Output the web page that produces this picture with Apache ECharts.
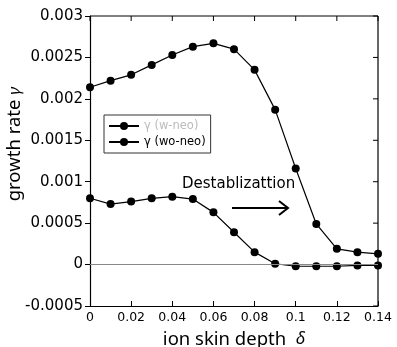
<!DOCTYPE html>
<html><head><meta charset="utf-8">
<script src="https://cdn.jsdelivr.net/npm/echarts@6/dist/echarts.min.js"></script>
<style>html,body{margin:0;padding:0;background:#fff}#c{width:397px;height:347px}</style>
</head><body><div id="c"></div>
<script>
var delta = [0,0.01,0.02,0.03,0.04,0.05,0.06,0.07,0.08,0.09,0.10,0.11,0.12,0.13,0.14];
var gammaUpper = [0.00214,0.00222,0.00229,0.00241,0.00253,0.00263,0.00267,0.00260,0.00235,0.00187,0.00116,0.00049,0.00019,0.00015,0.00013];
var gammaLower = [0.00080,0.00073,0.00076,0.00080,0.00082,0.00079,0.00063,0.00039,0.00015,0.00001,-0.00002,-0.00002,-0.00002,-0.00001,-0.00001];
var seriesNames = ['\u03b3 (w-neo)','\u03b3 (wo-neo)'];
var yTicks = {min:-0.0005,max:0.003,interval:0.0005};
var xTicks = {min:0,max:0.14,interval:0.02};

var chart = echarts.init(document.getElementById('c'));
var font = 'DejaVu Sans';
var nameFont = 'Noto Sans';
function pairs(ys){return delta.map(function(x,i){return [x,ys[i]];});}
chart.setOption({
  animation:false,
  grid:{left:90,right:19,top:16,bottom:41,containLabel:false,outerBoundsMode:'none'},
  legend:{
    left:104, top:115, orient:'vertical', itemGap:4, itemWidth:30, itemHeight:10,
    borderColor:'#333', borderWidth:1, padding:[5,5,5,4],
    textStyle:{fontFamily:font,fontSize:11.5,color:'#000'},
    data:[{name:seriesNames[0],textStyle:{color:'#bbb'}},{name:seriesNames[1]}]
  },
  xAxis:{type:'value',min:xTicks.min,max:xTicks.max,interval:xTicks.interval,
    name:'ion skin depth  {d|\u03b4}',nameLocation:'middle',nameGap:24,
    nameTextStyle:{fontFamily:nameFont,fontSize:18.5,color:'#000',rich:{d:{fontFamily:nameFont,fontStyle:'italic',fontSize:17}}},
    axisLine:{show:true,onZero:false,lineStyle:{color:'#000',width:1.2}},
    axisTick:{show:true,inside:true,length:5,lineStyle:{color:'#000'}},
    axisLabel:{fontFamily:font,fontSize:12.5,color:'#000',margin:5,formatter:function(v){return String(+v.toFixed(2));}},
    splitLine:{show:false}},
  yAxis:{type:'value',min:yTicks.min,max:yTicks.max,interval:yTicks.interval,
    axisLine:{show:true,onZero:false,lineStyle:{color:'#000',width:1.2}},
    axisTick:{show:true,inside:false,length:5,lineStyle:{color:'#000'}},
    axisLabel:{fontFamily:font,fontSize:15,color:'#000',margin:7,formatter:function(v){return String(+v.toFixed(4));}},
    splitLine:{show:false}},
  series:[
    {name:seriesNames[0],type:'line',data:pairs(gammaUpper),symbol:'circle',symbolSize:8,
      itemStyle:{color:'#000'},lineStyle:{color:'#000',width:1.2},
      markLine:{silent:true,symbol:'none',label:{show:false},lineStyle:{color:'#888',width:1,type:'solid'},data:[{yAxis:0}]}},
    {name:seriesNames[1],type:'line',data:pairs(gammaLower),symbol:'circle',symbolSize:8,
      itemStyle:{color:'#000'},lineStyle:{color:'#000',width:1.2}}
  ]
});
var gx0=90, gx1=397-19, gy0=16, gy1=347-41;
var g=[{type:'line',shape:{x1:gx0,y1:gy0,x2:gx1,y2:gy0},style:{stroke:'#000',lineWidth:1}},
       {type:'line',shape:{x1:gx1,y1:gy0,x2:gx1,y2:gy1},style:{stroke:'#000',lineWidth:1.2}}];
for(var v=xTicks.min; v<=xTicks.max+1e-9; v+=xTicks.interval){
  var px=chart.convertToPixel({xAxisIndex:0},v);
  g.push({type:'line',shape:{x1:px,y1:gy0,x2:px,y2:gy0+5},style:{stroke:'#000',lineWidth:1}});
}
for(var w=yTicks.min; w<=yTicks.max+1e-9; w+=yTicks.interval){
  var py=chart.convertToPixel({yAxisIndex:0},w);
  g.push({type:'line',shape:{x1:gx1,y1:py,x2:gx1-5,y2:py},style:{stroke:'#000',lineWidth:1}});
}
g.push({type:'text',x:15,y:144,rotation:Math.PI/2,style:{text:'growth rate {g|\u03b3}',align:'center',verticalAlign:'middle',
  fontFamily:nameFont,fontSize:18.5,fill:'#000',rich:{g:{fontFamily:nameFont,fontStyle:'italic',fontSize:17}}}});
g.push({type:'text',left:182,top:177,style:{text:'Destablizattion',fontFamily:font,fontSize:15,fill:'#000'}});
g.push({type:'line',shape:{x1:232,y1:208,x2:287,y2:208},style:{stroke:'#000',lineWidth:2}});
g.push({type:'polyline',shape:{points:[[279,201],[288,208],[279,215]]},style:{stroke:'#000',lineWidth:2,fill:null}});
chart.setOption({graphic:g});
</script></body></html>
